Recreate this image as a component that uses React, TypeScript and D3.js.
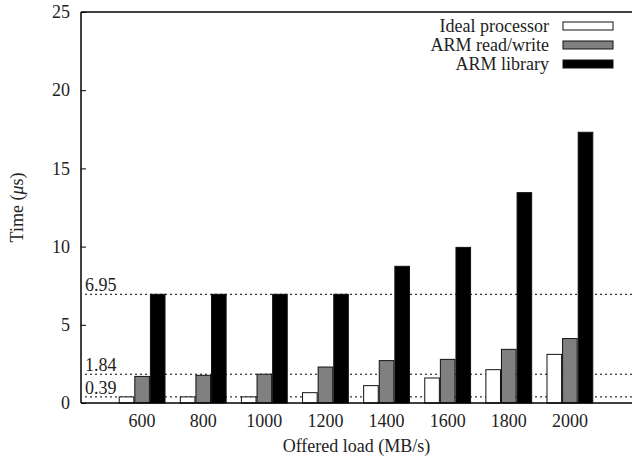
import { scaleLinear, select, axisLeft } from 'd3'
import React, { useEffect, useRef } from 'react'

const loads = [600, 800, 1000, 1200, 1400, 1600, 1800, 2000]
const idealProcessor = [0.39, 0.39, 0.39, 0.66, 1.11, 1.6, 2.13, 3.11]
const armReadWrite = [1.7, 1.77, 1.84, 2.3, 2.71, 2.79, 3.43, 4.12]
const armLibrary = [6.95, 6.95, 6.95, 6.95, 8.74, 9.95, 13.45, 17.31]
const refLines = [0.39, 1.84, 6.95]
const yTicks = [0, 5, 10, 15, 20, 25]

const series = [
  { name: 'Ideal processor', values: idealProcessor, fill: '#ffffff' },
  { name: 'ARM read/write', values: armReadWrite, fill: '#808080' },
  { name: 'ARM library', values: armLibrary, fill: '#000000' },
]

const W = 632
const H = 459
const margin = { left: 81, right: 1, top: 12, bottom: 56 }
const font = "'Liberation Serif', 'Times New Roman', Times, serif"
const fs = 18

export default function App() {
  const svgRef = useRef<SVGSVGElement>(null)

  useEffect(() => {
    const svg = select(svgRef.current)
    svg.selectAll('*').remove()

    const x = scaleLinear().domain([400, 2200]).range([margin.left, W - margin.right])
    const y = scaleLinear().domain([0, 25]).range([H - margin.bottom, margin.top])
    const barW = 14.6

    // dotted reference lines
    const refs = svg.append('g')
    refs
      .selectAll('line')
      .data(refLines)
      .join('line')
      .attr('x1', margin.left + 4)
      .attr('x2', W)
      .attr('y1', (d) => y(d))
      .attr('y2', (d) => y(d))
      .attr('stroke', '#000')
      .attr('stroke-width', 1)
      .attr('stroke-dasharray', '2,3')
    refs
      .selectAll('text')
      .data(refLines)
      .join('text')
      .attr('x', margin.left + 4)
      .attr('y', (d) => y(d) - 3)
      .style('font-family', font)
      .style('font-size', fs + 'px')
      .attr('fill', '#222')
      .text((d) => d.toFixed(2))

    // bars
    series.forEach((s, i) => {
      svg
        .append('g')
        .selectAll('rect')
        .data(s.values)
        .join('rect')
        .attr('x', (d, j) => x(loads[j]) + (i - 1.5) * (barW + 1) + 0.5)
        .attr('y', (d) => y(d))
        .attr('width', barW)
        .attr('height', (d) => y(0) - y(d))
        .attr('fill', s.fill)
        .attr('stroke', '#111')
        .attr('stroke-width', 1)
    })

    // axes frame
    svg
      .append('line')
      .attr('x1', margin.left)
      .attr('x2', W)
      .attr('y1', y(0))
      .attr('y2', y(0))
      .attr('stroke', '#000')
      .attr('stroke-width', 1.5)
    svg
      .append('line')
      .attr('x1', margin.left)
      .attr('x2', W)
      .attr('y1', margin.top)
      .attr('y2', margin.top)
      .attr('stroke', '#000')
      .attr('stroke-width', 1.5)

    const yAxis = svg
      .append('g')
      .attr('transform', `translate(${margin.left},0)`)
      .call(axisLeft(y).tickValues(yTicks).tickSize(-5).tickPadding(11))
    yAxis.select('.domain').attr('stroke-width', 1.5).attr('d', `M0,${y(0)}V${margin.top}`)
    yAxis
      .selectAll('text')
      .style('font-family', font)
      .style('font-size', fs + 'px')
      .attr('fill', '#222')

    // x tick labels
    svg
      .append('g')
      .selectAll('text')
      .data(loads)
      .join('text')
      .attr('x', (d) => x(d))
      .attr('y', y(0) + 24)
      .attr('text-anchor', 'middle')
      .style('font-family', font)
      .style('font-size', fs + 'px')
      .attr('fill', '#222')
      .text((d) => d)

    // axis titles
    svg
      .append('text')
      .attr('x', (margin.left + W) / 2)
      .attr('y', 452)
      .attr('text-anchor', 'middle')
      .style('font-family', font)
      .style('font-size', fs + 'px')
      .attr('fill', '#222')
      .text('Offered load (MB/s)')
    const yt = svg
      .append('text')
      .attr('transform', `translate(23,${(margin.top + y(0)) / 2}) rotate(-90)`)
      .attr('text-anchor', 'middle')
      .style('font-family', font)
      .style('font-size', fs + 'px')
      .attr('fill', '#222')
    yt.append('tspan').text('Time (')
    yt.append('tspan').style('font-style', 'italic').text('μ')
    yt.append('tspan').text('s)')

    // legend
    const legend = svg.append('g')
    series.forEach((s, i) => {
      const ly = 26 + i * 19
      legend
        .append('text')
        .attr('x', 549)
        .attr('y', ly + 6)
        .attr('text-anchor', 'end')
        .style('font-family', font)
        .style('font-size', fs + 'px')
        .attr('fill', '#222')
        .text(s.name)
      legend
        .append('rect')
        .attr('x', 563)
        .attr('y', ly - 4)
        .attr('width', 50)
        .attr('height', 8)
        .attr('fill', s.fill)
        .attr('stroke', '#111')
        .attr('stroke-width', 1)
    })
  }, [])

  return (
    <svg
      ref={svgRef}
      width={W}
      height={H}
      style={{ position: 'absolute', left: 0, top: 0, background: '#fff' }}
    />
  )
}
